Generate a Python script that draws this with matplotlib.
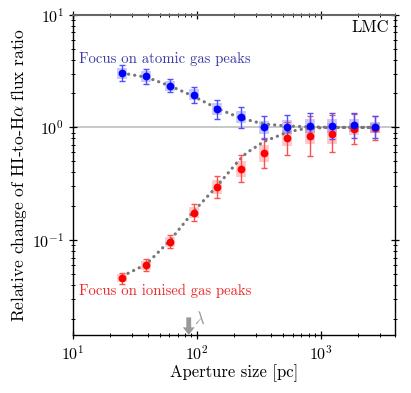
import numpy as np
import matplotlib
matplotlib.use("Agg")
import matplotlib.pyplot as plt

plt.rcParams['font.family'] = 'serif'
plt.rcParams['font.serif'] = ['cmr10', 'DejaVu Serif']
plt.rcParams['mathtext.fontset'] = 'cm'
plt.rcParams['axes.formatter.use_mathtext'] = True

# ---- data ----
aperture = [25, 39, 61, 94, 146, 226, 351, 540, 826, 1240, 1860, 2760]

atomic_y = [3.01, 2.83, 2.34, 1.95, 1.45, 1.23, 1.00, 1.01, 1.03, 1.03, 1.04, 1.00]
atomic_err_dex = [0.071, 0.065, 0.059, 0.071, 0.083, 0.095, 0.105, 0.104, 0.111, 0.115, 0.115, 0.098]
atomic_box_dex = [0.045, 0.045, 0.045, 0.05, 0.055, 0.055, 0.06, 0.06, 0.06, 0.06, 0.06, 0.05]

ionised_y = [0.046, 0.060, 0.097, 0.175, 0.295, 0.43, 0.588, 0.80, 0.84, 0.88, 0.97, 0.99]
ionised_err_dex = [0.05, 0.056, 0.059, 0.077, 0.10, 0.118, 0.133, 0.148, 0.177, 0.166, 0.136, 0.109]
ionised_box_dex = [0.035, 0.04, 0.045, 0.05, 0.06, 0.07, 0.075, 0.07, 0.075, 0.093, 0.05, 0.045]

atomic_fit_x = [25, 39, 61, 93, 145, 226, 350, 540, 826, 1300, 2760]
atomic_fit_y = [3.03, 2.79, 2.33, 1.90, 1.48, 1.21, 1.07, 1.03, 1.01, 1.0, 1.0]
ionised_fit_x = [25, 39, 61, 93, 145, 212, 250, 350, 545, 760, 1200, 2760]
ionised_fit_y = [0.048, 0.061, 0.10, 0.177, 0.30, 0.49, 0.59, 0.75, 0.91, 0.98, 1.0, 1.0]

lambda_pc = 86

# ---- figure ----
fig = plt.figure(figsize=(4.11, 3.93), dpi=100)
ax = fig.add_axes([0.178, 0.1476, 0.783, 0.815])
ax.set_xscale('log')
ax.set_yscale('log')

ax.axhline(1.0, color='#c8c8c8', lw=1.4, zorder=0)


def asym(y, d):
    y = np.asarray(y, float)
    d = np.asarray(d, float)
    return np.vstack([y - y * 10 ** (-d), y * 10 ** d - y])


x = np.asarray(aperture, float)

# boxes
ax.errorbar(x, ionised_y, yerr=asym(ionised_y, ionised_box_dex), fmt='none',
            ecolor='#ff0000', alpha=0.22, elinewidth=7, capsize=0, zorder=1)
ax.errorbar(x, atomic_y, yerr=asym(atomic_y, atomic_box_dex), fmt='none',
            ecolor='#0000ff', alpha=0.22, elinewidth=7, capsize=0, zorder=1)

# fit curves
for fx, fy in ((ionised_fit_x, ionised_fit_y), (atomic_fit_x, atomic_fit_y)):
    ax.plot(fx, fy, color='#777777', lw=2.3,
            linestyle=(0, (0.05, 1.9)), dash_capstyle='round', zorder=2)

# error bars
ax.errorbar(x, ionised_y, yerr=asym(ionised_y, ionised_err_dex), fmt='none',
            ecolor='#ff5050', elinewidth=1.0, capsize=2.4, capthick=1.0, zorder=3)
ax.errorbar(x, atomic_y, yerr=asym(atomic_y, atomic_err_dex), fmt='none',
            ecolor='#5050ff', elinewidth=1.0, capsize=2.4, capthick=1.0, zorder=3)

# markers
ax.plot(x, ionised_y, 'o', color='#ff0000', ms=5.6, mec='none', zorder=4)
ax.plot(x, atomic_y, 'o', color='#0000ff', ms=5.6, mec='none', zorder=5)

ax.set_xlim(10, 4000)
ax.set_ylim(0.0144, 10)

ax.tick_params(which='both', direction='inout', top=True, right=True, labelsize=11.5)
ax.tick_params(which='major', length=6, width=0.9)
ax.tick_params(which='minor', length=3.5, width=0.7)
for s in ax.spines.values():
    s.set_linewidth(1.0)
ax.spines['top'].set_color('#666666')
ax.spines['top'].set_linewidth(1.5)

ax.set_xlabel('Aperture size [pc]', fontsize=12, labelpad=1)
ax.set_ylabel(r'Relative change of HI-to-H$\alpha$ flux ratio', fontsize=12.5, labelpad=2)

ax.text(0.981, 0.962, 'LMC', transform=ax.transAxes, ha='right', va='center', fontsize=12)
ax.text(0.018, 0.861, 'Focus on atomic gas peaks', transform=ax.transAxes,
        ha='left', va='center', fontsize=10.6, color='#3c3ca8')
ax.text(0.018, 0.138, 'Focus on ionised gas peaks', transform=ax.transAxes,
        ha='left', va='center', fontsize=10.6, color='#f02828')

ax.annotate('', xy=(lambda_pc, 0.0), xycoords=('data', 'axes fraction'),
            xytext=(lambda_pc, 0.055), textcoords=('data', 'axes fraction'),
            arrowprops=dict(arrowstyle='simple,head_width=0.85,head_length=0.55,tail_width=0.35',
                            color='#999999', lw=0, shrinkA=0, shrinkB=0))
ax.text(lambda_pc * 1.1, 0.052, r'$\lambda$', transform=ax.get_xaxis_transform(),
        ha='left', va='center', fontsize=12, color='#999999')

fig.savefig('out.png', dpi=100)
